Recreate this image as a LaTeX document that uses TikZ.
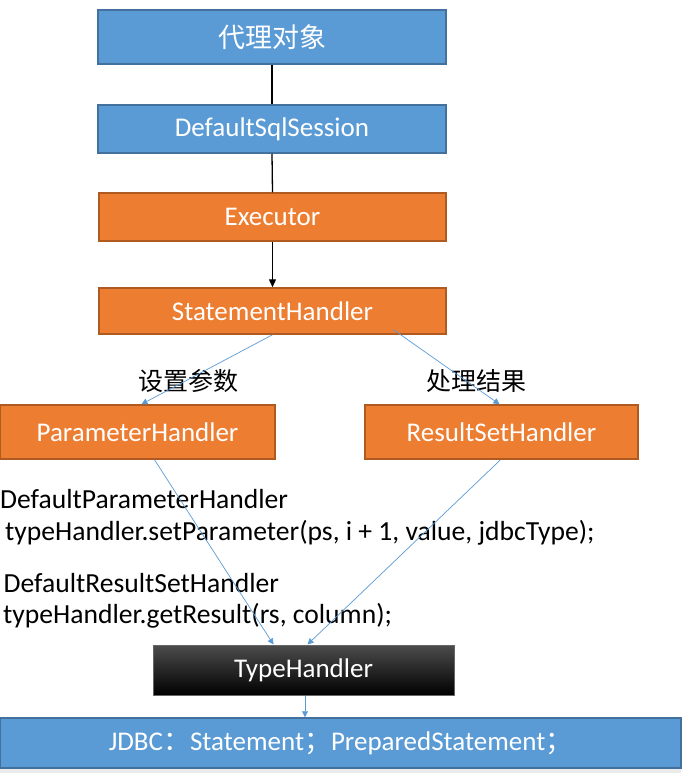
\documentclass[tikz,border=0pt]{standalone}
\usepackage{fontspec}
\setmainfont{Carlito}
\newfontfamily\cjk{Noto Sans CJK SC}
\usetikzlibrary{arrows.meta,positioning}
\definecolor{bfill}{HTML}{5B9BD5}
\definecolor{bdraw}{HTML}{41719C}
\definecolor{ofill}{HTML}{ED7D31}
\definecolor{odraw}{HTML}{AE5A21}
\definecolor{lnblue}{HTML}{5B9BD5}
\begin{document}
\begin{tikzpicture}[x=1pt,y=-1pt,
  bluebox/.style={draw=bdraw,fill=bfill,line width=1.5pt,text=white,inner sep=0pt,font=\fontsize{27}{30}\selectfont},
  orangebox/.style={draw=odraw,fill=ofill,line width=1.5pt,text=white,inner sep=0pt,font=\fontsize{27}{30}\selectfont},
  blackline/.style={draw=black,line width=1.3pt},
  bluearrow/.style={draw=lnblue,line width=0.7pt,-{Triangle[width=6pt,length=6pt]}},
  codetext/.style={anchor=base west,inner sep=0pt,font=\fontsize{27.6}{30}\selectfont},
  labeltext/.style={inner sep=0pt,font=\cjk\fontsize{25}{28}\selectfont}]
\fill[white] (0,0) rectangle (681,773);
\useasboundingbox (0,0) rectangle (681,773);
\fill[black!8] (0,768) rectangle (681,773);

\node[bluebox,minimum width=348pt,minimum height=54pt] (a) at (272,37) {\cjk 代理对象};
\node[bluebox,minimum width=348pt,minimum height=48pt] (b) at (272,129) {DefaultSqlSession};
\node[orangebox,minimum width=347pt,minimum height=48pt] (c) at (272.5,217) {Executor};
\node[orangebox,minimum width=347pt,minimum height=46pt] (d) at (272.5,311) {StatementHandler};
\node[orangebox,minimum width=275pt,minimum height=54pt] (p) at (137.5,432) {ParameterHandler};
\node[orangebox,minimum width=273pt,minimum height=54pt] (r) at (501.5,432) {ResultSetHandler};
\node[draw=black!60,line width=1pt,top color=black!70,middle color=black,bottom color=black,shading angle=0,
      minimum width=301pt,minimum height=50pt,inner sep=0pt,text=white,font=\fontsize{27}{30}\selectfont] (t) at (303.5,670) {TypeHandler};
\node[bluebox,minimum width=681pt,minimum height=50pt,font=\fontsize{27}{30}\selectfont] (j) at (340.5,743)
  {JDBC{\cjk ：}Statement{\cjk ；}PreparedStatement{\cjk ；}};

\node[labeltext] (l1) at (188,381) {设置参数};
\node[labeltext] (l2) at (476,381) {处理结果};

\node[codetext] (c1) at (0,508) {DefaultParameterHandler};
\node[codetext] (c2) at (5,540) {typeHandler.setParameter(ps, i + 1, value, jdbcType);};
\node[codetext] (c3) at (3.5,592) {DefaultResultSetHandler};
\node[codetext] (c4) at (3,623) {typeHandler.getResult(rs, column);};

\draw[blackline] (a.south) -- (b.north);
\draw[blackline] (b.south) -- (c.north);
\draw[blackline,-{Triangle[width=7pt,length=8pt]}] (c.south) -- (d.north);

\draw[bluearrow] (d.south) -- ([xshift=4pt]p.north);
\draw[bluearrow] ([xshift=121pt,yshift=5pt]d.south) -- ([xshift=-2pt]r.north);
\draw[bluearrow] ([xshift=17pt]p.south) -- ([xshift=-30pt]t.north);
\draw[bluearrow] ([xshift=-1pt]r.south) -- ([xshift=4pt]t.north);
\draw[bluearrow] ([xshift=1.5pt]t.south) -- ([xshift=-35.5pt]j.north);
\end{tikzpicture}
\end{document}
